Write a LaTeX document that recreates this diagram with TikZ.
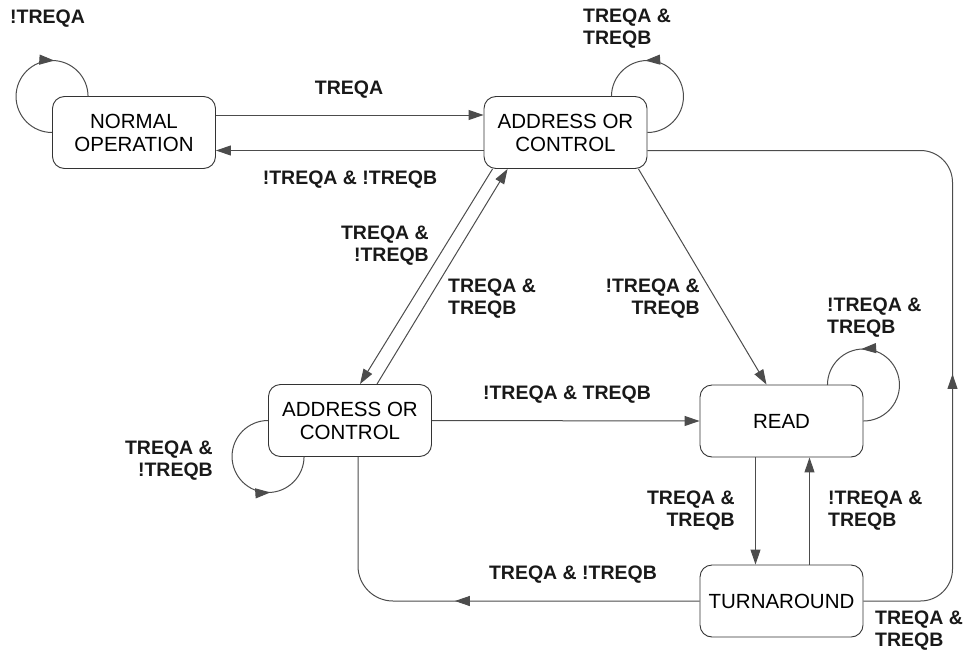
\documentclass[tikz,border=0pt]{standalone}
\usepackage{fontspec}
\setmainfont{Liberation Sans}
\usetikzlibrary{arrows.meta,decorations.markings}

\begin{document}
\begin{tikzpicture}[x=1pt, y=-1pt,
  box/.style={draw=black!80, line width=0.9pt, rounded corners=12pt, align=center,
    minimum width=163pt, minimum height=72pt, inner sep=0pt,
    font=\fontsize{20.5}{23}\selectfont},
  lbl/.style={font=\fontsize{19.5}{22}\selectfont\bfseries, inner sep=0pt, text=black!90},
  arr/.style={-{Triangle[length=15pt, width=10pt]}, draw=black!70, line width=1pt},
  midarr/.style={draw=black!70, line width=1pt, postaction={decorate},
    decoration={markings, mark=at position #1 with {\arrow{Triangle[length=15pt, width=10pt]}}}}
]
\useasboundingbox (0,0) rectangle (973,650);
% States
\node[box] (NO) at (134,   132.5) {NORMAL\\OPERATION};
\node[box] (AT) at (565.5, 132.5) {ADDRESS OR\\CONTROL};
\node[box] (AB) at (350,   420.5) {ADDRESS OR\\CONTROL};
\node[box] (RD) at (781.5, 421)   {READ};
\node[box] (TA) at (781.5, 601)   {TURNAROUND};
% Conditions
\node[lbl, anchor=west] (lNO) at (10, 19) {!TREQA};
\node[lbl] (lNA) at (349, 90) {TREQA};
\node[lbl] (lAN) at (350, 180) {!TREQA \& !TREQB};
\node[lbl, anchor=west, align=left] (lAA) at (583, 29) {TREQA \&\\TREQB};
\node[lbl, anchor=east, align=right] (lAB) at (429, 246) {TREQA \&\\!TREQB};
\node[lbl, anchor=west, align=left] (lBA) at (448, 298.5) {TREQA \&\\TREQB};
\node[lbl, anchor=east, align=right] (lAR) at (700, 299) {!TREQA \&\\TREQB};
\node[lbl, anchor=west, align=left] (lRR) at (827, 318) {!TREQA \&\\TREQB};
\node[lbl, anchor=east, align=right] (lBB) at (213, 461) {TREQA \&\\!TREQB};
\node[lbl] (lBR) at (567, 395) {!TREQA \& TREQB};
\node[lbl] (lTB) at (573, 575) {TREQA \& !TREQB};
\node[lbl, anchor=east, align=right] (lRT) at (735, 511) {TREQA \&\\TREQB};
\node[lbl, anchor=west, align=left] (lTR) at (828, 511) {!TREQA \&\\TREQB};
\node[lbl, anchor=west, align=left] (lTA) at (875, 631) {TREQA \&\\TREQB};
% Transitions between states
\draw[arr] ([yshift=17.5pt]NO.east) -- ([yshift=17.5pt]AT.west);
\draw[arr] ([yshift=-18pt]AT.west) -- ([yshift=-18pt]NO.east);
\draw[arr] ([xshift=9pt]AT.south west) -- ([xshift=10pt]AB.north);
\draw[arr] ([xshift=27pt]AB.north) -- ([xshift=24pt]AT.south west);
\draw[arr] ([xshift=-9pt]AT.south east) -- ([xshift=-15pt]RD.north);
\draw[arr] (AB.east) -- (RD.west);
\draw[arr] ([xshift=-26pt]RD.south) -- ([xshift=-26pt]TA.north);
\draw[arr] ([xshift=28pt]TA.north) -- ([xshift=28pt]RD.south);
% Turnaround back to address/control
\coordinate (abin) at ([xshift=8pt]AB.south);
\draw[midarr=0.52, rounded corners=35pt] (TA.west) -| (abin);
\coordinate (atin) at ([yshift=-18pt]AT.east);
\coordinate (rail) at (952.5, 0);
\draw[midarr=0.37, rounded corners=32pt] (TA.east) -| (rail |- atin) -- (atin);
% Self loops
\draw[midarr=0.68] (NO.west) arc[start angle=-90, end angle=-360, radius=36pt];
\draw[midarr=0.68] (AT.east) arc[start angle=-90, end angle=180, radius=36pt];
\draw[midarr=0.68] (RD.east) arc[start angle=-90, end angle=180, radius=36pt];
\draw[midarr=0.68] (AB.west) arc[start angle=90, end angle=360, radius=36pt];
\end{tikzpicture}
\end{document}
